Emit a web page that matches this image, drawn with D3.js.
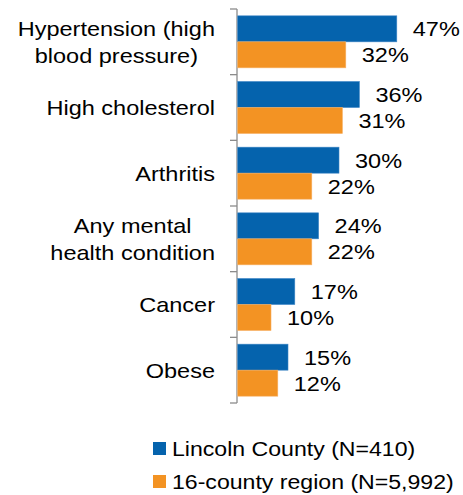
<!DOCTYPE html>
<html>
<head>
<meta charset="utf-8">
<script src="https://cdn.jsdelivr.net/npm/d3@7"></script>
<style>
html,body{margin:0;padding:0;background:#fff;}
svg{display:block;}
text{font-family:"Liberation Sans",Arial,sans-serif;fill:#000;}
</style>
</head>
<body>
<div id="chart"></div>
<script>
const categories = [
  ["Hypertension (high", "blood pressure)"],
  ["High cholesterol"],
  ["Arthritis"],
  ["Any mental", "health condition"],
  ["Cancer"],
  ["Obese"]
];
const seriesNames = ["Lincoln County (N=410)", "16-county region (N=5,992)"];
const lincolnValues = [47, 36, 30, 24, 17, 15];
const regionValues = [32, 31, 22, 22, 10, 12];
const colors = ["#0563ad", "#f39323"];

const W = 463, H = 495;
const FS = 21, SX = 1.12;
const svg = d3.select("#chart").append("svg").attr("width", W).attr("height", H);

const catIdx = d3.range(categories.length);
const y = d3.scaleBand().domain(catIdx).range([9, 403]).paddingInner(0).paddingOuter(0);
const ySub = d3.scaleBand().domain([0, 1]).range([0, y.bandwidth()]).paddingInner(0).paddingOuter(0.263);
const x = d3.scaleLinear().domain([0, 60]).range([237, 441]);

// axis
const axis = svg.append("g");
axis.append("line").attr("x1", 237).attr("x2", 237).attr("y1", 9).attr("y2", 403)
  .attr("stroke", "#8c8c8c").attr("stroke-width", 1.3);
const tickYs = catIdx.map(i => y(i)).concat([403]);
axis.selectAll("line.tick").data(tickYs).enter().append("line")
  .attr("class", "tick")
  .attr("x1", 230).attr("x2", 237).attr("y1", d => d).attr("y2", d => d)
  .attr("stroke", "#8c8c8c").attr("stroke-width", 1.3);

const data = [];
catIdx.forEach(i => {
  data.push({c: i, s: 0, v: lincolnValues[i]});
  data.push({c: i, s: 1, v: regionValues[i]});
});

svg.selectAll("rect.bar").data(data).enter().append("rect")
  .attr("class", "bar")
  .attr("x", x(0) + 0.7)
  .attr("y", d => y(d.c) + ySub(d.s))
  .attr("width", d => x(d.v) - x(0) - 0.7)
  .attr("height", ySub.bandwidth())
  .attr("fill", d => colors[d.s])
  .attr("stroke", d => d.s === 0 ? "#3f86c6" : "#f7b063")
  .attr("stroke-width", 0.6);

function stext(parent, tx, ty, str, anchor, sx) {
  return parent.append("text")
    .attr("transform", `translate(${tx},${ty}) scale(${sx || SX},1)`)
    .attr("text-anchor", anchor || "start")
    .style("font-size", FS + "px")
    .text(str);
}

// value labels
data.forEach(d => {
  const cy = y(d.c) + ySub(d.s) + ySub.bandwidth() / 2;
  stext(svg, x(d.v) + 16, cy + 7.5, d.v + "%", "start");
});

// category labels
catIdx.forEach(i => {
  const lines = categories[i];
  const cy = y(i) + y.bandwidth() / 2;
  if (lines.length === 1) {
    stext(svg, 215, cy + 7.5, lines[0], "end");
  } else {
    const tmp = lines.map(l => {
      const t = stext(svg, 0, -100, l, "start");
      const w = t.node().getComputedTextLength() * SX;
      t.remove();
      return w;
    });
    const maxW = d3.max(tmp);
    const centerX = 215 - maxW / 2;
    lines.forEach((l, k) => {
      stext(svg, centerX, cy + (k === 0 ? -6 : 21.5), l, "middle");
    });
  }
});

// legend
const legend = svg.append("g");
seriesNames.forEach((n, k) => {
  const ly = 442 + k * 33;
  legend.append("rect").attr("x", 153).attr("y", ly).attr("width", 13).attr("height", 13)
    .attr("fill", colors[k]);
  stext(legend, 172, ly + 14, n, "start", 1.1);
});
</script>
</body>
</html>
